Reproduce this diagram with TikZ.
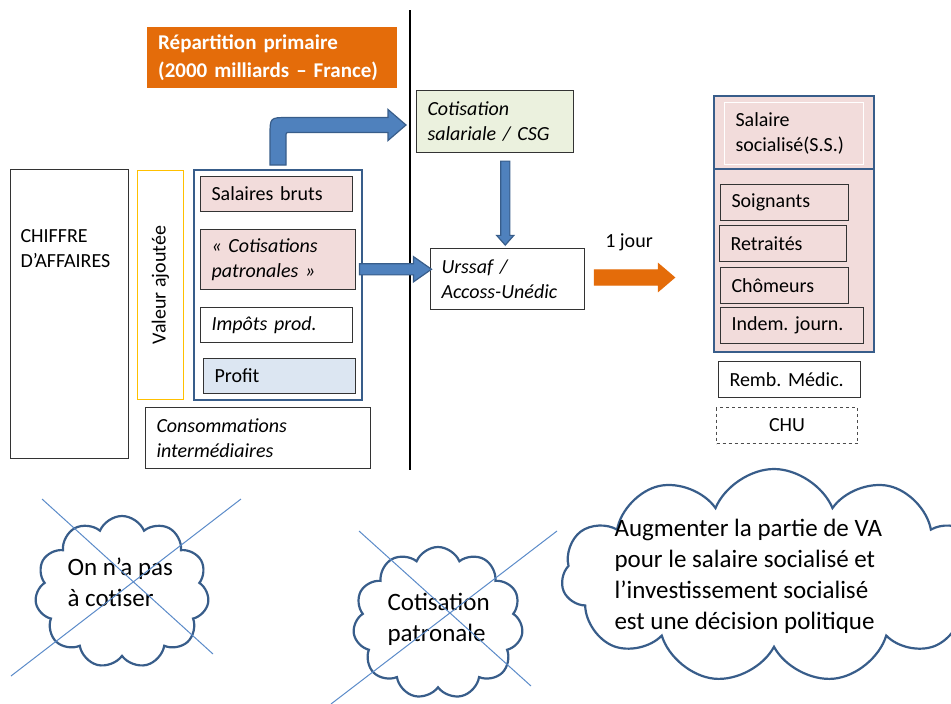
\documentclass[tikz,border=0pt]{standalone}
\usepackage{fontspec}
\setmainfont{Carlito}
\usetikzlibrary{calc,shapes.symbols,shapes.arrows}

\begin{document}
\frenchspacing
\begin{tikzpicture}[x=1pt,y=-1pt,
  txt/.style={font=\fontsize{20}{25}\selectfont},
  cell/.style={txt, draw=black!80, line width=1pt, anchor=north west, align=left, inner xsep=11pt, inner ysep=0pt, text width=#1pt, minimum height=36pt},
  itcell/.style={cell=#1, font=\fontsize{20}{25}\selectfont\itshape},
  blockarrow/.style={single arrow, single arrow head indent=0pt, draw=arrowEdge, fill=arrowFill, line width=1.2pt},
  nuage/.style={cloud, cloud puffs=11, cloud puff arc=135, cloud ignores aspect, draw=arrowEdge, line width=2.2pt, fill=white, inner sep=0pt},
  nuagetxt/.style={font=\fontsize{25}{31}\selectfont, align=left, anchor=west},
  barre/.style={draw=crossLine, line width=1pt}]
\definecolor{arrowFill}{RGB}{79,129,189}
\definecolor{arrowEdge}{RGB}{56,93,138}
\definecolor{crossLine}{RGB}{91,139,201}
\definecolor{pinkFill}{RGB}{242,220,219}
\definecolor{profFill}{RGB}{220,230,242}
\definecolor{csgFill}{RGB}{235,241,222}
\definecolor{orangeFill}{RGB}{228,108,10}
\definecolor{vaEdge}{RGB}{255,192,0}
\useasboundingbox (0,0) rectangle (951,704);
\node[fill=orangeFill, anchor=north west, minimum width=250pt, minimum height=61pt, text width=228pt, inner xsep=11pt, align=left, text=white, font=\fontsize{21}{28}\selectfont\bfseries] (titre) at (147,27) {Répartition primaire\\(2000 milliards – France)};
\draw[line width=2pt] (410,10) -- (410,470);
\node[draw=black!80, line width=1pt, anchor=north west, minimum width=118pt, minimum height=289pt] (ca) at (10,169) {};
\node[txt, anchor=north west, align=left] (catxt) at (17,226) {CHIFFRE\\D’AFFAIRES};
\node[draw=vaEdge, line width=1pt, anchor=north west, minimum width=46pt, minimum height=229pt] (va) at (137,170) {};
\node[txt, rotate=90] (vatxt) at (va.center) {Valeur ajoutée};
\node[draw=arrowEdge, line width=2pt, anchor=north west, minimum width=168pt, minimum height=230pt] (vabox) at (193,169) {};
\node[cell=130, fill=pinkFill, minimum height=35pt] (sal) at (200,176) {Salaires bruts};
\node[itcell=133, fill=pinkFill, minimum height=60pt] (cotp) at (200,229) {« Cotisations\\patronales »};
\node[itcell=130, minimum height=35pt] (imp) at (200,307) {Impôts prod.};
\node[cell=130, fill=profFill, minimum height=35pt] (prof) at (203,358) {Profit};
\node[itcell=203, minimum height=61pt] (conso) at (145,407) {Consommations\\intermédiaires};
\node[itcell=135, fill=csgFill, minimum height=62pt] (csg) at (416,90) {Cotisation\\salariale / CSG};
\node[itcell=132, minimum height=61pt] (urssaf) at (430,248) {Urssaf /\\Accoss-Unédic};
\node[txt] (jour) at (629,242) {1 jour};
\node[draw=arrowEdge, line width=2pt, fill=pinkFill, anchor=north west, minimum width=160pt, minimum height=256pt] (ssbox) at (713,95) {};
\node[cell=117, draw=white, fill=pinkFill, minimum height=62pt] (ssin) at (724,102) {Salaire\\socialisé(S.S.)};
\draw[draw=arrowEdge, line width=2pt] ($(ssbox.west |- ssin.south)+(0,4)$) -- ($(ssbox.east |- ssin.south)+(0,4)$);
\foreach \nom/\lib/\x/\y/\w in {soi/Soignants/720/184/106, ret/Retraités/719/225/105, cho/Chômeurs/720/267/106, ind/Indem. journ./720/307/121}
  \node[cell=\w, fill=pinkFill] (\nom) at (\x,\y) {\lib};
\node[cell=120] (remb) at (718,361) {Remb. Médic.};
\node[txt, draw=black!70, dashed, line width=1pt, anchor=north west, minimum width=141pt, minimum height=36pt] (chu) at (716,407) {CHU};
\coordinate (bf) at ($(vabox.north)+(0,-4)$);
\coordinate (bt) at ($(csg.west)+(-10,3.5)$);
\coordinate (bc) at (bf |- bt);
\draw[draw=arrowEdge, fill=arrowFill, line width=1.2pt] ($(bf)+(-8,0)$) -- ($(bc)+(-8,10.5)$) .. controls ($(bc)+(-8,-7.5)$) .. ($(bc)+(10,-7.5)$) -- ($(bt)+(-18,-7.5)$) -- ($(bt)+(-18,-15.5)$) -- (bt) -- ($(bt)+(-18,15.5)$) -- ($(bt)+(-18,7.5)$) -- ($(bc)+(12,7.5)$) .. controls ($(bc)+(8,7.5)$) .. ($(bc)+(8,11.5)$) -- ($(bf)+(8,0)$) -- cycle;
\node[blockarrow, inner xsep=0pt, inner ysep=5pt, minimum height=72pt, minimum width=24pt, single arrow head extend=7pt, single arrow tip angle=70] (flechecot) at ($(cotp.east)!0.5!(urssaf.west)+(-1.5,0)$) {};
\node[blockarrow, rotate=-90, inner xsep=0pt, inner ysep=4pt, minimum height=84pt, minimum width=16pt, single arrow head extend=4pt, single arrow tip angle=83] (flechecsg) at ($(csg.south)!0.5!(urssaf.north)+(4,0)$) {};
\node[blockarrow, draw=orangeFill, fill=orangeFill, inner xsep=0pt, inner ysep=7pt, minimum height=80pt, minimum width=26pt, single arrow head extend=6pt, single arrow tip angle=81] (flechejour) at ($(urssaf.east)+(45,-1.5)$) {};
\begin{scope}
  \clip (0,0) rectangle (951,704);
  \node[nuage, minimum width=174pt, minimum height=152pt] (nuage1) at (122,592) {};
  \node[nuagetxt] (n1txt) at (64,582) {On n’a pas\\à cotiser};
  \node[nuage, minimum width=170pt, minimum height=152pt] (nuage2) at (438,623) {};
  \node[nuagetxt] (n2txt) at (384,619) {Cotisation\\patronale};
  \node[nuage, minimum width=425pt, minimum height=214pt] (nuage3) at (774,576) {};
  \node[nuagetxt] (n3txt) at (611,576) {Augmenter la partie de VA\\pour le salaire socialisé et\\l’investissement socialisé\\est une décision politique};
  \draw[barre] (42,499) -- (213,654);
  \draw[barre] (11,676) -- (241,499);
  \draw[barre] (359,531) -- (531,686);
  \draw[barre] (331,704) -- (557,531);
\end{scope}
\end{tikzpicture}
\end{document}
